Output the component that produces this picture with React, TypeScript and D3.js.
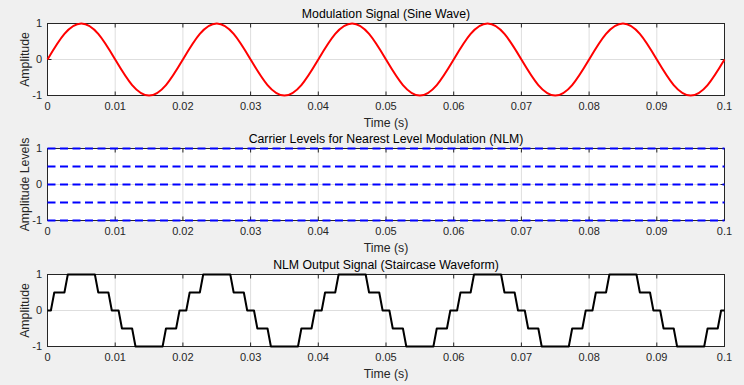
import { scaleLinear, line as d3_line, curveNatural, curveLinear } from "d3";

const xTicks = [0, 0.01, 0.02, 0.03, 0.04, 0.05, 0.06, 0.07, 0.08, 0.09, 0.1];
const xTickLabels = ["0", "0.01", "0.02", "0.03", "0.04", "0.05", "0.06", "0.07", "0.08", "0.09", "0.1"];
const yTicks = [-1, 0, 1];
const yTickLabels = ["-1", "0", "1"];

// sine read at every 0.0025 s (8 points per period)
const sineTime = [
  0, 0.0025, 0.005, 0.0075, 0.01, 0.0125, 0.015, 0.0175,
  0.02, 0.0225, 0.025, 0.0275, 0.03, 0.0325, 0.035, 0.0375,
  0.04, 0.0425, 0.045, 0.0475, 0.05, 0.0525, 0.055, 0.0575,
  0.06, 0.0625, 0.065, 0.0675, 0.07, 0.0725, 0.075, 0.0775,
  0.08, 0.0825, 0.085, 0.0875, 0.09, 0.0925, 0.095, 0.0975, 0.1,
];
const sineValue = [
  0, 0.71, 1, 0.71, 0, -0.71, -1, -0.71,
  0, 0.71, 1, 0.71, 0, -0.71, -1, -0.71,
  0, 0.71, 1, 0.71, 0, -0.71, -1, -0.71,
  0, 0.71, 1, 0.71, 0, -0.71, -1, -0.71,
  0, 0.71, 1, 0.71, 0, -0.71, -1, -0.71, 0,
];

const carrierLevels = [-1, -0.5, 0, 0.5, 1];

// corners of the staircase
const nlmTime = [
  0, 0.0005, 0.001, 0.0025, 0.003, 0.007, 0.0075, 0.009, 0.0095, 0.0105, 0.011, 0.0125, 0.013, 0.017, 0.0175, 0.019, 0.0195,
  0.02, 0.0205, 0.021, 0.0225, 0.023, 0.027, 0.0275, 0.029, 0.0295, 0.0305, 0.031, 0.0325, 0.033, 0.037, 0.0375, 0.039, 0.0395,
  0.04, 0.0405, 0.041, 0.0425, 0.043, 0.047, 0.0475, 0.049, 0.0495, 0.0505, 0.051, 0.0525, 0.053, 0.057, 0.0575, 0.059, 0.0595,
  0.06, 0.0605, 0.061, 0.0625, 0.063, 0.067, 0.0675, 0.069, 0.0695, 0.0705, 0.071, 0.0725, 0.073, 0.077, 0.0775, 0.079, 0.0795,
  0.08, 0.0805, 0.081, 0.0825, 0.083, 0.087, 0.0875, 0.089, 0.0895, 0.0905, 0.091, 0.0925, 0.093, 0.097, 0.0975, 0.099, 0.0995,
  0.1,
];
const nlmLevel = [
  0, 0, 0.5, 0.5, 1, 1, 0.5, 0.5, 0, 0, -0.5, -0.5, -1, -1, -0.5, -0.5, 0,
  0, 0, 0.5, 0.5, 1, 1, 0.5, 0.5, 0, 0, -0.5, -0.5, -1, -1, -0.5, -0.5, 0,
  0, 0, 0.5, 0.5, 1, 1, 0.5, 0.5, 0, 0, -0.5, -0.5, -1, -1, -0.5, -0.5, 0,
  0, 0, 0.5, 0.5, 1, 1, 0.5, 0.5, 0, 0, -0.5, -0.5, -1, -1, -0.5, -0.5, 0,
  0, 0, 0.5, 0.5, 1, 1, 0.5, 0.5, 0, 0, -0.5, -0.5, -1, -1, -0.5, -0.5, 0,
  0,
];

const W = 744;
const H = 385;
const left = 47.5;
const right = 724.5;
const plotH = 72;
const FONT = "'Liberation Sans', Arial, Helvetica, sans-serif";
const AX = "#262626";

const xScale = scaleLinear().domain([0, 0.1]).range([left, right]);

type Series = { t: number[]; v: number[]; color: string; dash?: string; curve: any };

function Subplot({ top, title, ylabel, series }: { top: number; title: string; ylabel: string; series: Series[] }) {
  const yScale = scaleLinear().domain([-1, 1]).range([top + plotH, top]);
  const bottom = top + plotH;
  const midY = top + plotH / 2;

  return (
    <g>
      <rect x={left} y={top} width={right - left} height={plotH} fill="#fff" />
      {/* grid */}
      {xTicks.slice(1, -1).map((t, i) => (
        <line key={"gx" + i} x1={xScale(t)} x2={xScale(t)} y1={top} y2={bottom} stroke="#dedede" strokeWidth={1} />
      ))}
      {yTicks.slice(1, -1).map((t, i) => (
        <line key={"gy" + i} x1={left} x2={right} y1={yScale(t)} y2={yScale(t)} stroke="#dedede" strokeWidth={1} />
      ))}
      {/* box + ticks */}
      <rect x={left} y={top} width={right - left} height={plotH} fill="none" stroke={AX} strokeWidth={1} />
      {xTicks.map((t, i) => (
        <g key={"tx" + i}>
          <line x1={xScale(t)} x2={xScale(t)} y1={bottom} y2={bottom - 4} stroke={AX} />
          <line x1={xScale(t)} x2={xScale(t)} y1={top} y2={top + 4} stroke={AX} />
          <text x={xScale(t)} y={bottom + 14.5} textAnchor="middle" fontSize={11} fill={AX} fontFamily={FONT}>
            {xTickLabels[i]}
          </text>
        </g>
      ))}
      {yTicks.map((t, i) => (
        <g key={"ty" + i}>
          <line x1={left} x2={left + 4} y1={yScale(t)} y2={yScale(t)} stroke={AX} />
          <line x1={right} x2={right - 4} y1={yScale(t)} y2={yScale(t)} stroke={AX} />
          <text x={42} y={yScale(t)} dy="0.35em" textAnchor="end" fontSize={11} fill={AX} fontFamily={FONT}>
            {yTickLabels[i]}
          </text>
        </g>
      ))}
      {/* data */}
      {series.map((s, i) => {
        const pts = s.t.map((t, j) => [t, s.v[j]] as [number, number]);
        const path = d3_line<[number, number]>()
          .x((d) => xScale(d[0]))
          .y((d) => yScale(d[1]))
          .curve(s.curve)(pts);
        return (
          <path key={i} d={path ?? ""} fill="none" stroke={s.color} strokeWidth={2} strokeDasharray={s.dash} strokeLinejoin="round" />
        );
      })}
      <text x={(left + right) / 2} y={top - 5.5} textAnchor="middle" fontSize={12.3} fill="#000" fontFamily={FONT}>
        {title}
      </text>
      <text x={(left + right) / 2} y={bottom + 31} textAnchor="middle" fontSize={12.3} fill={AX} fontFamily={FONT}>
        Time (s)
      </text>
      <text transform={`translate(28.5,${midY}) rotate(-90)`} textAnchor="middle" fontSize={12.3} fill={AX} fontFamily={FONT}>
        {ylabel}
      </text>
    </g>
  );
}

export default function App() {
  return (
    <svg width={W} height={H} style={{ position: "absolute", left: 0, top: 0, background: "#f0f0f0" }}>
      <rect width={W} height={H} fill="#f0f0f0" />
      <Subplot
        top={23.5}
        title="Modulation Signal (Sine Wave)"
        ylabel="Amplitude"
        series={[{ t: sineTime, v: sineValue, color: "#ff0000", curve: curveNatural }]}
      />
      <Subplot
        top={148.5}
        title="Carrier Levels for Nearest Level Modulation (NLM)"
        ylabel="Amplitude Levels"
        series={carrierLevels.map((lv) => ({
          t: [0, 0.1],
          v: [lv, lv],
          color: "#0000ff",
          dash: "8,4.5",
          curve: curveLinear,
        }))}
      />
      <Subplot
        top={274.5}
        title="NLM Output Signal (Staircase Waveform)"
        ylabel="Amplitude"
        series={[{ t: nlmTime, v: nlmLevel, color: "#000000", curve: curveLinear }]}
      />
    </svg>
  );
}
